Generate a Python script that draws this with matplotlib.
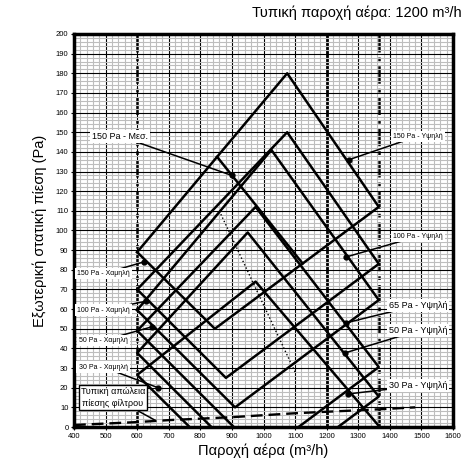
import matplotlib.pyplot as plt
import numpy as np

plt.rcParams['font.family'] = ['Liberation Sans', 'DejaVu Sans']

# operating ranges (air flow m3/h, pressure Pa)
esp150_x = [600, 1075, 1365, 846, 600]
esp150_y = [89, 180, 112, 50, 89]
esp150b_x = [600, 1075, 1365, 881, 600]
esp150b_y = [70, 150, 83, 25, 70]
esp100_x = [600, 1025, 1365, 910, 600]
esp100_y = [59.5, 141, 64.6, 10, 59.5]
esp65_x = [906, 600, 975, 1365, 1111]
esp65_y = [0, 49, 112, 30.5, 0]
esp50_x = [835, 600, 950, 1365, 1236]
esp50_y = [0, 37.7, 99, 15.5, 0]
esp30_x = [766, 600, 975, 1368]
esp30_y = [0, 26.5, 74, 0]
med150_x = [853, 1124]
med150_y = [137.5, 83.2]
dotted_x = [860, 1100]
dotted_y = [110, 28]

filter_x = [400, 600, 700, 900, 1100, 1365, 1480]
filter_y = [1, 2.5, 3.5, 5, 7, 9, 10]

flow_min, flow_max, flow_nom = 600, 1365, 1200

# labels: text, box position, dot position, font size
labels = [
    ('150 Pa - Μεσ.', 546, 148, 900, 128, 6.5),
    ('150 Pa - Υψηλή', 1489, 148, 1270, 136, 5),
    ('100 Pa - Υψηλή', 1489, 97, 1261, 86.5, 5),
    ('65 Pa - Υψηλή', 1489, 62, 1261, 53, 6.5),
    ('50 Pa - Υψηλή', 1489, 49, 1258, 37.7, 6.5),
    ('30 Pa - Υψηλή', 1489, 21, 1267, 16.8, 6.5),
    ('150 Pa - Χαμηλή', 492, 78, 621, 84, 5),
    ('100 Pa - Χαμηλή', 492, 59.5, 628, 64, 5),
    ('50 Pa - Χαμηλή', 492, 44, 647, 51, 5),
    ('30 Pa - Χαμηλή', 492, 30.5, 666, 20, 5),
]

fig = plt.figure(figsize=(4.73, 4.66), dpi=100)
ax = fig.add_axes([74/473, 1-427/466, 379/473, 393/466])
ax.set_xlim(400, 1600)
ax.set_ylim(0, 200)

ax.set_xticks(range(400, 1601, 100))
ax.set_xticks(range(400, 1601, 20), minor=True)
ax.set_yticks(range(0, 201, 10))
ax.set_yticks(range(0, 201, 2), minor=True)
ax.grid(which='minor', color='#bdbdbd', lw=0.8, zorder=0)
ax.grid(which='major', color='black', lw=0.8, zorder=0.5)
ax.tick_params(which='minor', length=0)
ax.tick_params(which='major', length=2, labelsize=5.5, pad=2)
for s in ax.spines.values():
    s.set_linewidth(2.5)

ax.axvline(flow_nom, color='black', lw=2, zorder=1)
for fx in (flow_min, flow_max):
    ax.axvline(fx, color='black', lw=1.8, ls=(0, (7, 2, 1.5, 2)), zorder=1)

for xs, ys in [(esp150_x, esp150_y), (esp150b_x, esp150b_y), (esp100_x, esp100_y),
               (esp65_x, esp65_y), (esp50_x, esp50_y), (esp30_x, esp30_y),
               (med150_x, med150_y)]:
    ax.plot(xs, ys, color='black', lw=1.8, zorder=2)
ax.plot(dotted_x, dotted_y, color='black', lw=1, ls=':', zorder=2)
ax.plot(filter_x, filter_y, color='black', lw=1.7, ls=(0, (5, 2.5)), zorder=2)

for txt, tx, ty, px, py, fs in labels:
    ax.plot([tx, px], [ty, py], color='black', lw=1.1, zorder=3)
    ax.plot(px, py, 'o', color='black', ms=3.5, zorder=4)
    ax.text(tx, ty, txt, fontsize=fs, ha='center', va='center', zorder=5,
            bbox=dict(facecolor='white', edgecolor='none', pad=1.5))

ax.plot([560, 656], [12, 3.5], color='black', lw=1.1, zorder=3)
ax.text(523, 15, 'Τυπική απώλεια\nπίεσης φίλτρου', fontsize=6.5, ha='center',
        va='center', zorder=5, linespacing=1.3,
        bbox=dict(facecolor='white', edgecolor='black', lw=1, pad=1.5))

ax.set_xlabel('Παροχή αέρα (m³/h)', fontsize=10.5, labelpad=3)
ax.set_ylabel('Εξωτερική στατική πίεση (Pa)', fontsize=10.5, labelpad=6)
fig.text(0.977, 0.972, 'Τυπική παροχή αέρα: 1200 m³/h', fontsize=10.5,
         ha='right', va='center')

fig.savefig('out.png', dpi=100)
